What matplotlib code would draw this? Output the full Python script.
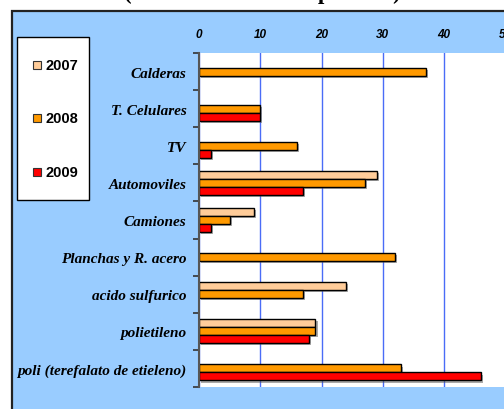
import numpy as np
import matplotlib
matplotlib.use("Agg")
import matplotlib.pyplot as plt
import matplotlib.patheffects as pe
from matplotlib.patches import Rectangle

categories = ["Calderas", "T. Celulares", "TV", "Automoviles", "Camiones",
              "Planchas y R. acero", "acido sulfurico", "polietileno",
              "poli (terefalato de etieleno)"]
years = ["2007", "2008", "2009"]
v2007 = [0, 0, 0, 29, 9, 0, 24, 19, 0]
v2008 = [37, 10, 16, 27, 5, 32, 17, 19, 33]
v2009 = [0, 10, 2, 17, 2, 0, 0, 18, 46]
colors = ["#FFCC99", "#FF9900", "#FF0000"]
title = "(Miles de toneladas por año)"

W, H = 504, 410
fig = plt.figure(figsize=(W / 100, H / 100), dpi=100, facecolor="white")

# light blue chart area with dark frame (only left/top edges visible)
bg = Rectangle((12 / W, -0.05), 1.1, 1 - 12 / H + 0.05, transform=fig.transFigure,
               facecolor="#99CCFF", edgecolor="#222222", linewidth=1.6, zorder=-2)
fig.add_artist(bg)

# title, mostly cut off at the top
fig.text(262 / W, 1 + 0.5 / H, title, ha="center", va="baseline",
         family="Liberation Serif", fontweight="bold", fontsize=16.5)

ax = fig.add_axes([199 / W, 1 - 388 / H, 306.5 / W, 334 / H])
ax.set_facecolor("white")

y = np.arange(len(categories))
bh = 0.216
shadow = [pe.SimplePatchShadow(offset=(1.5, -1.5), shadow_rgbFace="#555555", alpha=0.5),
          pe.Normal()]
for i, (vals, c) in enumerate(zip([v2007, v2008, v2009], colors)):
    vals = np.array(vals, dtype=float)
    vals[vals == 0] = np.nan
    bars = ax.barh(y + (i - 1) * bh, vals, height=bh, color=c,
                   edgecolor="black", linewidth=1.0, zorder=3)
    for b in bars:
        b.set_path_effects(shadow)

ax.set_xlim(0, 50)
ax.set_ylim(len(categories) - 0.5, -0.5)
ax.set_xticks([0, 10, 20, 30, 40, 50])
ax.xaxis.tick_top()
ax.tick_params(axis="x", length=0, pad=9)
for lab in ax.get_xticklabels():
    lab.set_family("Liberation Sans")
    lab.set_fontweight("bold")
    lab.set_style("italic")
    lab.set_fontsize(8.5)
ax.grid(axis="x", color="#4A6CF7", linewidth=1.0, zorder=1)

ax.set_yticks(y)
ax.set_yticklabels(categories, family="Liberation Serif", fontweight="bold",
                   style="italic", fontsize=11)
ax.set_yticks(np.arange(len(categories) + 1) - 0.5, minor=True)
ax.tick_params(axis="y", which="major", length=0, pad=9)
ax.tick_params(axis="y", which="minor", length=4, width=1.2, color="#333333")

for s in ["top", "right", "bottom"]:
    ax.spines[s].set_visible(False)
ax.spines["left"].set_color("#555555")
ax.spines["left"].set_linewidth(1.5)
ax.spines["left"].set_zorder(4)

# legend box drawn by hand
fig.add_artist(Rectangle((17 / W, 1 - 201 / H), 72 / W, 163 / H, transform=fig.transFigure,
                         facecolor="white", edgecolor="black", linewidth=1.0, zorder=5))
ly = [66, 119, 173]
for yr, c, yy in zip(years, colors, ly):
    fig.add_artist(Rectangle((33 / W, 1 - (yy + 4) / H), 8 / W, 8 / H,
                             transform=fig.transFigure, facecolor=c,
                             edgecolor="#333333", linewidth=0.8, zorder=6))
    fig.text(46 / W, 1 - yy / H, yr, ha="left", va="center",
             family="Liberation Sans", fontweight="bold", fontsize=10.5, zorder=6)

fig.savefig("out.png", dpi=100)
